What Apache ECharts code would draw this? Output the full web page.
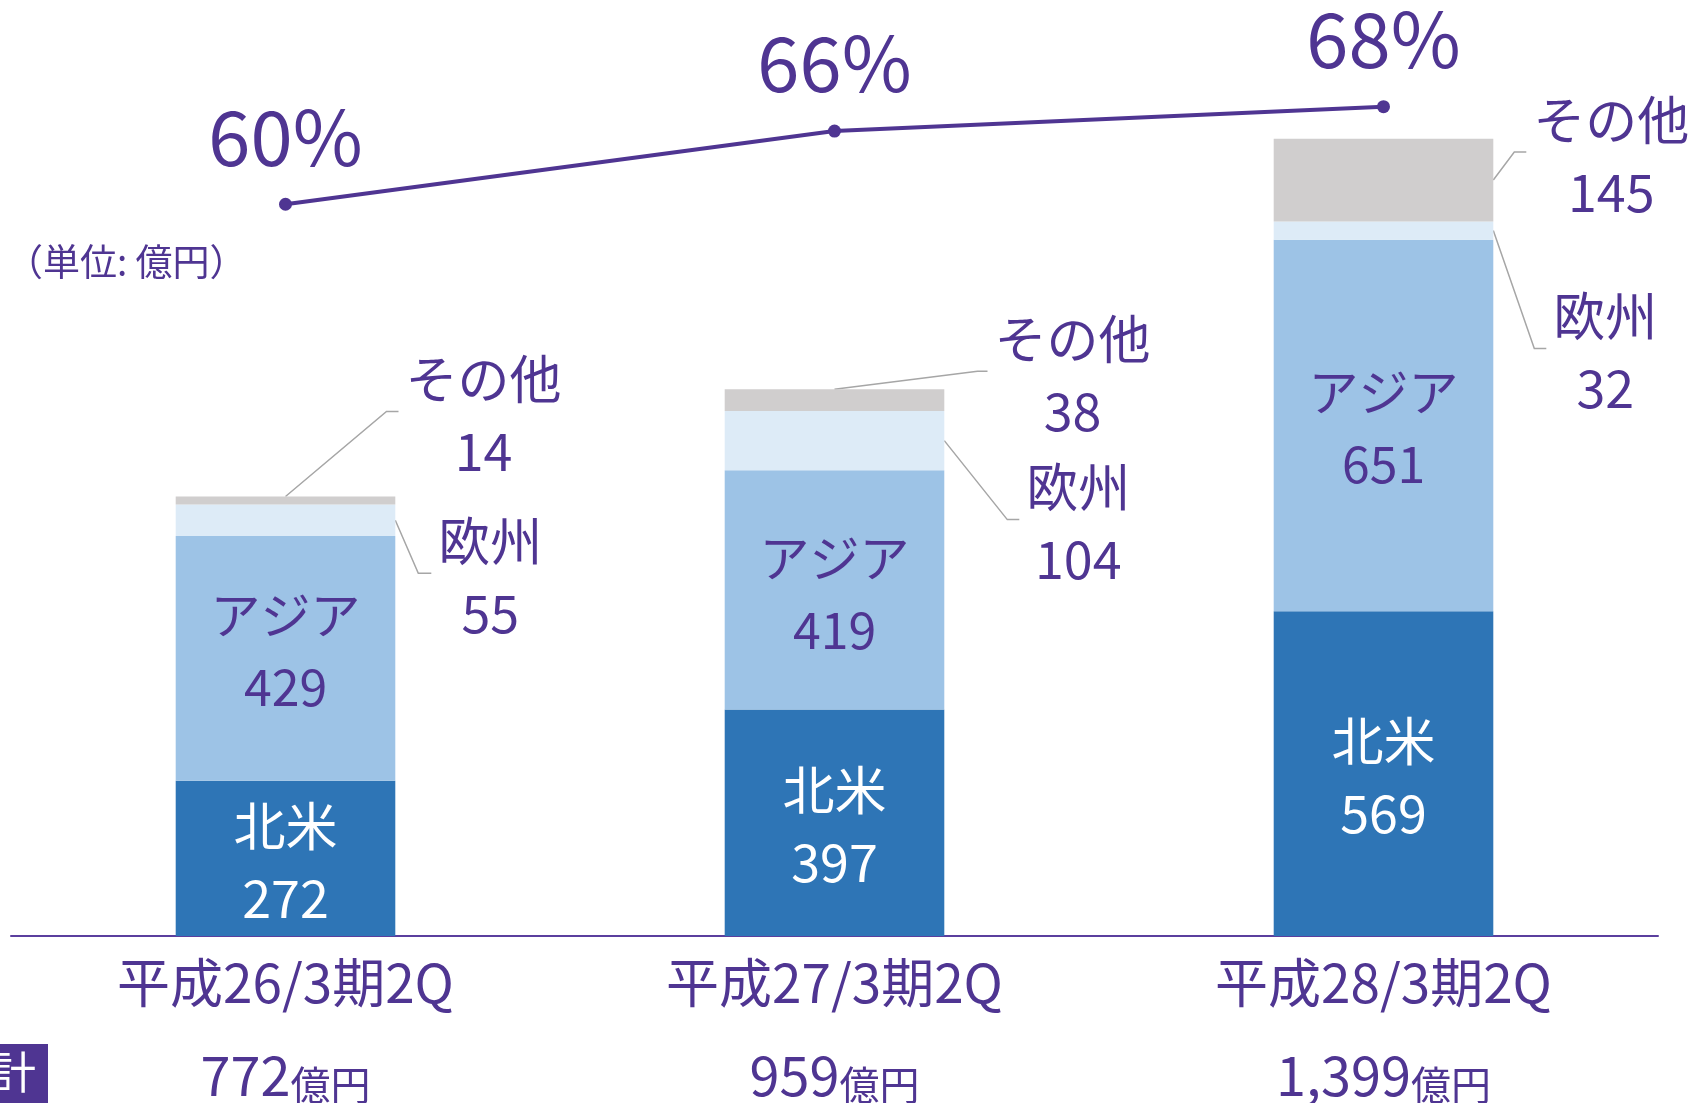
<!DOCTYPE html>
<html>
<head>
<meta charset="utf-8">
<script src="https://cdn.jsdelivr.net/npm/echarts@6/dist/echarts.min.js"></script>
<style>
  html, body { margin: 0; padding: 0; background: #fff; }
  #container { width: 1692px; height: 1103px; }
</style>
</head>
<body>
<div id="container"></div>
<script>
// 地域別売上高（単位: 億円）
var categories = ['平成26/3期2Q', '平成27/3期2Q', '平成28/3期2Q'];
var totals = ['772', '959', '1,399'];
var northAmerica = [272, 397, 569];
var asia = [429, 419, 651];
var europe = [55, 104, 32];
var others = [14, 38, 145];
var overseasRatio = [60, 66, 68];

// 引き出し線の折れ位置（px）
var othersLeader = [
    { from: 'top', dx: 101, dy: -85, tail: 12 },
    { from: 'top', dx: 143, dy: -18, tail: 10 },
    { from: 'right', dx: 21, dy: -28, tail: 12 }
];
var europeLeader = [
    { from: 'right', dx: 23, dy: 53, tail: 13 },
    { from: 'right', dx: 63, dy: 79, tail: 12 },
    { from: 'right', dx: 41, dy: 118, tail: 12 }
];
// アジアのラベル位置の微調整（px）
var asiaLabelShift = [-7, 4, 3];

var PURPLE = '#4F3592';
var FONT = 'Noto Sans CJK JP';
var LABEL_SIZE = 52;

function leaderItem(api, i, below, value, leader, name) {
    var base = api.coord([i, below]);
    var top = api.coord([i, below + value]);
    var half = api.size([1, 0])[0] * 0.4 / 2;
    var sx, sy;
    if (leader.from === 'top') {
        sx = top[0]; sy = top[1];
    } else {
        sx = top[0] + half; sy = (top[1] + base[1]) / 2;
    }
    var ex = sx + leader.dx, ey = sy + leader.dy;
    var tx = ex + leader.tail;
    return [{
        type: 'polyline',
        shape: { points: [[sx, sy], [ex, ey], [tx, ey]] },
        style: { stroke: '#A6A6A6', lineWidth: 1.5, fill: null }
    }, {
        type: 'text',
        x: tx + 7 + name.length * LABEL_SIZE / 2,
        y: ey + 4,
        style: {
            text: name + '\n' + value,
            fill: PURPLE,
            font: LABEL_SIZE + 'px "' + FONT + '"',
            lineHeight: 72,
            align: 'center',
            verticalAlign: 'middle'
        }
    }];
}

var dom = document.getElementById('container');
var myChart = echarts.init(dom);
var option = {
    animation: false,
    textStyle: { fontFamily: FONT },
    grid: { left: 11, right: 34, top: 0, bottom: 167, outerBoundsMode: 'none', containLabel: false },
    xAxis: [{
        type: 'category',
        data: categories,
        axisLine: { lineStyle: { color: '#5B3F9E', width: 2 } },
        axisTick: { show: false },
        axisLabel: { color: PURPLE, fontSize: 53, margin: 17, lineHeight: 60 }
    }, {
        type: 'category',
        data: categories,
        position: 'bottom',
        axisLine: { show: false },
        axisTick: { show: false },
        axisLabel: {
            margin: 109,
            formatter: function (v, i) {
                return '{n|' + totals[i] + '}{u|億円}';
            },
            rich: {
                n: { color: PURPLE, fontSize: 54, fontFamily: FONT, lineHeight: 60 },
                u: { color: PURPLE, fontSize: 40, fontFamily: FONT, lineHeight: 60, verticalAlign: 'bottom' }
            }
        }
    }],
    yAxis: [
        { type: 'value', min: 0, max: 1640, show: false, splitLine: { show: false } },
        { type: 'value', min: 0, max: 76.75, show: false, splitLine: { show: false } }
    ],
    graphic: [{
        type: 'text',
        left: 6,
        top: 243,
        style: { text: '（単位: 億円）', fill: PURPLE, font: '37px "' + FONT + '"' }
    }, {
        type: 'rect',
        left: 0,
        top: 1044,
        shape: { width: 48, height: 59 },
        style: { fill: PURPLE }
    }, {
        type: 'text',
        left: -8,
        top: 1050,
        style: { text: '計', fill: '#fff', font: '44px "' + FONT + '"' }
    }],
    series: [{
        name: '北米',
        type: 'bar',
        stack: 'total',
        barWidth: '40%',
        data: northAmerica,
        itemStyle: { color: '#2E75B6' },
        label: {
            show: true, position: 'inside', color: '#fff',
            fontSize: LABEL_SIZE, lineHeight: 72, offset: [0, 4],
            formatter: '北米\n{c}'
        }
    }, {
        name: 'アジア',
        type: 'bar',
        stack: 'total',
        data: asia.map(function (v, i) {
            return { value: v, label: { offset: [0, asiaLabelShift[i]] } };
        }),
        itemStyle: { color: '#9DC3E6' },
        label: {
            show: true, position: 'inside', color: PURPLE,
            fontSize: 50, lineHeight: 72,
            formatter: 'アジア\n{c}'
        }
    }, {
        name: '欧州',
        type: 'bar',
        stack: 'total',
        data: europe,
        itemStyle: { color: '#DDEBF7' }
    }, {
        name: 'その他',
        type: 'bar',
        stack: 'total',
        data: others,
        itemStyle: { color: '#D0CECE' }
    }, {
        name: '引き出し線',
        type: 'custom',
        clip: false,
        silent: true,
        data: categories.map(function (c, i) { return [i]; }),
        encode: { x: 0 },
        renderItem: function (params, api) {
            var i = params.dataIndex;
            var below = northAmerica[i] + asia[i];
            var children = []
                .concat(leaderItem(api, i, below, europe[i], europeLeader[i], '欧州'))
                .concat(leaderItem(api, i, below + europe[i], others[i], othersLeader[i], 'その他'));
            return { type: 'group', children: children };
        }
    }, {
        name: '海外比率',
        type: 'line',
        yAxisIndex: 1,
        data: overseasRatio,
        symbol: 'circle',
        symbolSize: 13,
        z: 5,
        lineStyle: { color: PURPLE, width: 4 },
        itemStyle: { color: PURPLE },
        label: {
            show: true, position: 'top', distance: 23,
            color: PURPLE, fontSize: 76, lineHeight: 76,
            formatter: '{c}%'
        }
    }]
};

if (option && typeof option === 'object') {
    myChart.setOption(option);
}
</script>
</body>
</html>
